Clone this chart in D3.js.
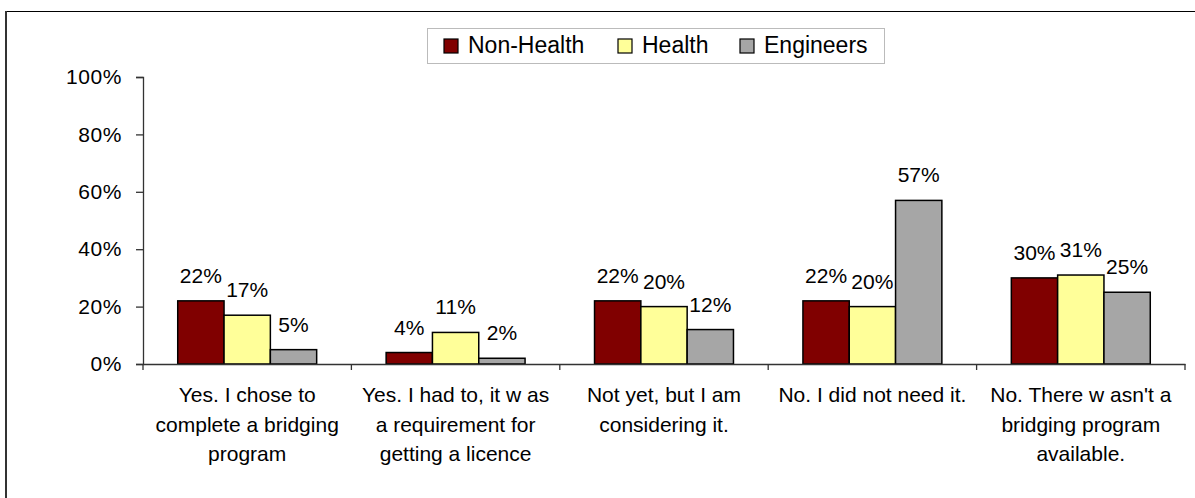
<!DOCTYPE html>
<html>
<head>
<meta charset="utf-8">
<script src="https://cdn.jsdelivr.net/npm/d3@7"></script>
<style>
  html, body { margin: 0; padding: 0; background: #fff; }
  svg { display: block; font-family: "Liberation Sans", Arial, sans-serif; }
</style>
</head>
<body>
<svg id="chart" width="1195" height="498"></svg>
<script>
// Survey answers (category labels are pre-broken into lines)
const categories = [
  ["Yes. I chose to", "complete a bridging", "program"],
  ["Yes. I had to, it w as", "a requirement for", "getting a licence"],
  ["Not yet, but I am", "considering it."],
  ["No. I did not need it."],
  ["No. There w asn't a", "bridging program", "available."]
];
const seriesNames = ["Non-Health", "Health", "Engineers"];
const nonHealth = [22, 4, 22, 22, 30];
const health    = [17, 11, 20, 20, 31];
const engineers = [5, 2, 12, 57, 25];
const yTicks = [0, 20, 40, 60, 80, 100];
const colors = ["#800000", "#FFFF99", "#A6A6A6"];

const values = [nonHealth, health, engineers];
const svg = d3.select("#chart");
const FONT = 21;

// outer chart frame
svg.append("line").attr("x1", 6).attr("x2", 1195).attr("y1", 11.5).attr("y2", 11.5)
  .attr("stroke", "#000").attr("stroke-width", 1);
svg.append("line").attr("x1", 6).attr("x2", 6).attr("y1", 11).attr("y2", 498)
  .attr("stroke", "#333").attr("stroke-width", 2);

const plot = { left: 143, right: 1185, top: 77, bottom: 364 };

const x = d3.scaleBand().domain(d3.range(categories.length))
  .range([plot.left, plot.right]).paddingInner(0).paddingOuter(0);
const xs = d3.scaleBand().domain(seriesNames)
  .range([0, x.bandwidth()]).paddingInner(0).paddingOuter(0.75);
const y = d3.scaleLinear().domain([0, 100]).range([plot.bottom, plot.top]);

// y axis
const yAxis = svg.append("g").attr("transform", `translate(${plot.left},0)`)
  .call(d3.axisLeft(y).tickValues(yTicks).tickFormat(d => d + "%").tickSize(7).tickPadding(14));
yAxis.select(".domain").attr("stroke", "#333").attr("stroke-width", 1.3);
yAxis.selectAll(".tick line").attr("stroke", "#333").attr("stroke-width", 1.3);
yAxis.selectAll(".tick text").attr("font-size", FONT).attr("fill", "#000")
  .attr("letter-spacing", 0.6)
  .attr("font-family", "Liberation Sans, Arial, sans-serif");

// bars
const groups = svg.append("g").selectAll("g").data(d3.range(categories.length)).join("g")
  .attr("transform", i => `translate(${x(i)},0)`);

seriesNames.forEach((s, si) => {
  groups.append("rect")
    .attr("x", i => xs(s))
    .attr("y", i => y(values[si][i]))
    .attr("width", xs.bandwidth())
    .attr("height", i => y(0) - y(values[si][i]))
    .attr("fill", colors[si])
    .attr("stroke", "#000")
    .attr("stroke-width", 1.5);
  groups.append("text")
    .attr("x", i => xs(s) + xs.bandwidth() / 2)
    .attr("y", i => y(values[si][i]) - 18)
    .attr("text-anchor", "middle")
    .attr("font-size", FONT)
    .text(i => values[si][i] + "%");
});

// x axis line and category ticks
const xAxis = svg.append("g").attr("transform", `translate(0,${plot.bottom})`)
  .call(d3.axisBottom(x).tickValues([]).tickSizeOuter(0));
xAxis.select(".domain").attr("stroke", "#333").attr("stroke-width", 1.3);
const boundaries = d3.range(categories.length + 1).map(i =>
  i < categories.length ? x(i) : x(i - 1) + x.bandwidth());
svg.append("g").selectAll("line").data(boundaries).join("line")
  .attr("x1", d => d).attr("x2", d => d)
  .attr("y1", plot.bottom).attr("y2", plot.bottom + 6)
  .attr("stroke", "#333").attr("stroke-width", 1.3);

// category labels
svg.append("g").selectAll("text").data(categories).join("text")
  .attr("text-anchor", "middle")
  .attr("font-size", FONT)
  .each(function (lines, i) {
    d3.select(this).selectAll("tspan").data(lines).join("tspan")
      .attr("x", x(i) + x.bandwidth() / 2)
      .attr("y", (d, k) => 402 + k * 29.5)
      .text(d => d);
  });

// legend
const legend = svg.append("g");
legend.append("rect").attr("x", 427.5).attr("y", 28.5).attr("width", 457).attr("height", 35)
  .attr("fill", "#fff").attr("stroke", "#bbb").attr("stroke-width", 1);
const legendX = [444, 618, 740];
seriesNames.forEach((s, si) => {
  legend.append("rect").attr("x", legendX[si]).attr("y", 39).attr("width", 14).attr("height", 14)
    .attr("fill", colors[si]).attr("stroke", "#000").attr("stroke-width", 1.2);
  legend.append("text").attr("x", legendX[si] + 24).attr("y", 53)
    .attr("font-size", 23).text(s);
});
</script>
</body>
</html>
